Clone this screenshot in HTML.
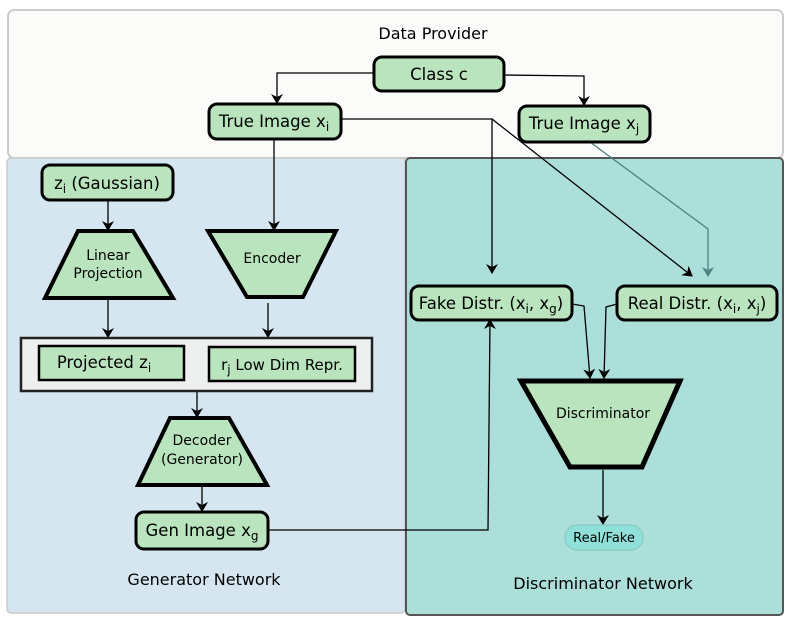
<!DOCTYPE html>
<html><head><style>
body{margin:0;background:#fff;}
svg{display:block;font-family:"DejaVu Sans","Liberation Sans",sans-serif;}
</style></head><body>
<svg width="789" height="624" viewBox="0 0 789 624" xmlns="http://www.w3.org/2000/svg">
<defs>
<marker id="a" markerWidth="10" markerHeight="12" refX="9" refY="6" orient="auto" markerUnits="userSpaceOnUse">
<path d="M0,0 L10,6 L0,12 L3,6 Z" fill="#000"/></marker>
<marker id="t" markerWidth="10" markerHeight="12" refX="9" refY="6" orient="auto" markerUnits="userSpaceOnUse">
<path d="M0,0 L10,6 L0,12 L3,6 Z" fill="#4e8080"/></marker>
</defs>
<rect x="8" y="10" width="775" height="148" rx="6" fill="#fbfcfa" stroke="#ccc" stroke-width="2"/>
<rect x="7" y="158" width="398" height="455" rx="4" fill="#d6e6f0" stroke="#ccc" stroke-width="1.5"/>
<rect x="406" y="158" width="377" height="457" rx="4" fill="#acdfda" stroke="#555" stroke-width="2"/>
<text x="433" y="39" font-size="16" text-anchor="middle">Data Provider</text>
<text x="204" y="585" font-size="16" text-anchor="middle">Generator Network</text>
<text x="603" y="589" font-size="16" text-anchor="middle">Discriminator Network</text>

<g fill="none" stroke="#000" stroke-width="1.3">
<polyline points="374,73 277,73 277,103" marker-end="url(#a)"/>
<polyline points="504,75 584,76 584,105" marker-end="url(#a)"/>
<polyline points="341,119 492,119 492,273" marker-end="url(#a)"/>
<line x1="492" y1="119" x2="692" y2="276" marker-end="url(#a)"/>
<line x1="274" y1="139" x2="274" y2="230" marker-end="url(#a)"/>
<line x1="108" y1="200" x2="108" y2="230" marker-end="url(#a)"/>
<line x1="108" y1="298" x2="108" y2="337" marker-end="url(#a)"/>
<line x1="268" y1="303" x2="268" y2="337" marker-end="url(#a)"/>
<line x1="197" y1="391" x2="197" y2="417" marker-end="url(#a)"/>
<line x1="202" y1="486" x2="202" y2="511" marker-end="url(#a)"/>
<polyline points="268,530 488,530 490,320" marker-end="url(#a)"/>
<polyline points="572,304 584,306 590,378" marker-end="url(#a)"/>
<polyline points="617,304 606,307 604,378" marker-end="url(#a)"/>
<line x1="603" y1="470" x2="603" y2="524" marker-end="url(#a)"/>
</g>
<polyline points="590,142 708,229 708,276" fill="none" stroke="#4e8080" stroke-width="1.3" marker-end="url(#t)"/>

<g fill="#b9e4bd" stroke="#000" stroke-width="3">
<rect x="374" y="57" width="130" height="34" rx="8"/>
<rect x="209" y="104" width="132" height="35" rx="8"/>
<rect x="519" y="106" width="131" height="36" rx="8"/>
<rect x="42" y="165" width="131" height="35" rx="8"/>
<rect x="411" y="286" width="161" height="34" rx="8"/>
<rect x="617" y="286" width="160" height="34" rx="8"/>
<rect x="136" y="512" width="132" height="37" rx="8"/>
<polygon points="78,231 133,231 173,298 45,298" stroke-width="4"/>
<polygon points="208,231 336,231 303,297 247,297" stroke-width="4"/>
<polygon points="170,418 229,418 267,485 138,485" stroke-width="4"/>
<polygon points="521,381 680,381 642,467 570,467" stroke-width="5"/>
</g>
<rect x="21" y="338" width="351" height="53" fill="#eef0ef" stroke="#222" stroke-width="2.5"/>
<rect x="39" y="346" width="145" height="34" fill="#b9e4bd" stroke="#000" stroke-width="2.5"/>
<rect x="209" y="347" width="146" height="34" fill="#b9e4bd" stroke="#000" stroke-width="2.5"/>
<rect x="565" y="525" width="78" height="25" rx="12" fill="#8ee0d8" stroke="#8bc8c0" stroke-width="1.2"/>

<g font-size="16.5" text-anchor="middle" fill="#000">
<text x="439" y="80">Class c</text>
<text x="274" y="127">True Image x<tspan font-size="12" dy="4">i</tspan></text>
<text x="584" y="129">True Image x<tspan font-size="12" dy="4">j</tspan></text>
<text x="107" y="189">z<tspan font-size="12" dy="4">i</tspan><tspan dy="-4"> (Gaussian)</tspan></text>
<text x="491" y="309">Fake Distr. (x<tspan font-size="12" dy="4">i</tspan><tspan dy="-4">, x</tspan><tspan font-size="12" dy="4">g</tspan><tspan dy="-4">)</tspan></text>
<text x="697" y="309">Real Distr. (x<tspan font-size="12" dy="4">i</tspan><tspan dy="-4">, x</tspan><tspan font-size="12" dy="4">j</tspan><tspan dy="-4">)</tspan></text>
<text x="202" y="536">Gen Image x<tspan font-size="12" dy="4">g</tspan></text>
<text x="104" y="368">Projected z<tspan font-size="12" dy="4">i</tspan></text>
<text x="282" y="370" font-size="15">r<tspan font-size="12" dy="4">j</tspan><tspan dy="-4"> Low Dim Repr.</tspan></text>
</g>
<g font-size="14" text-anchor="middle" fill="#000">
<text x="108" y="260">Linear</text>
<text x="108" y="278">Projection</text>
<text x="272" y="263">Encoder</text>
<text x="202" y="445">Decoder</text>
<text x="202" y="464">(Generator)</text>
<text x="603" y="418">Discriminator</text>
<text x="604" y="542" font-size="13">Real/Fake</text>
</g>
</svg>
</body></html>
